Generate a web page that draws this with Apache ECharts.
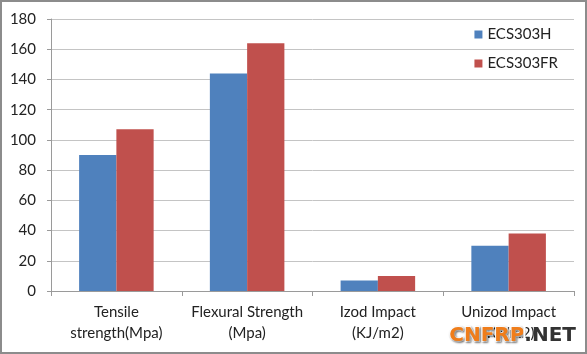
<!DOCTYPE html>
<html>
<head>
<meta charset="utf-8">
<script src="https://cdn.jsdelivr.net/npm/echarts@6/dist/echarts.min.js"></script>
<style>
  html, body { margin: 0; padding: 0; background: #fff; }
  #chart { width: 587px; height: 354px; box-sizing: border-box; border: 2px solid #8c8c8c; }
</style>
</head>
<body>
<div id="chart"></div>
<script>
var categories = ['Tensile\nstrength(Mpa)', 'Flexural Strength\n(Mpa)', 'Izod Impact\n(KJ/m2)', 'Unizod Impact\n(KJ/m2)'];
var ecs303h = [90, 144, 7, 30];
var ecs303fr = [107, 164, 10, 38];

var chartDom = document.getElementById('chart');
var myChart = echarts.init(chartDom);

var font = 'Lato, "Open Sans", sans-serif';

var option = {
    animation: false,
    textStyle: { fontFamily: font },
    grid: { left: 49, right: 11, top: 17, bottom: 61, containLabel: false },
    legend: {
        orient: 'vertical',
        right: 22,
        top: 20,
        itemWidth: 8,
        itemHeight: 8,
        itemGap: 14,
        icon: 'rect',
        textStyle: { fontFamily: font, fontSize: 15, color: '#222' },
        data: ['ECS303H', 'ECS303FR']
    },
    xAxis: {
        type: 'category',
        data: categories,
        axisLine: { lineStyle: { color: '#9a9a9a' } },
        axisTick: { show: true, length: 5, lineStyle: { color: '#9a9a9a' } },
        axisLabel: { fontSize: 15, color: '#222', lineHeight: 21, margin: 11, interval: 0 }
    },
    yAxis: {
        type: 'value',
        min: 0,
        max: 180,
        interval: 20,
        axisLine: { show: true, lineStyle: { color: '#9a9a9a' } },
        axisTick: { show: true, length: 4, lineStyle: { color: '#9a9a9a' } },
        axisLabel: { fontSize: 15, color: '#222', margin: 15 },
        splitLine: { lineStyle: { color: '#c4c4c4' } }
    },
    series: [
        {
            name: 'ECS303H',
            type: 'bar',
            data: ecs303h,
            barGap: '0%',
            barCategoryGap: '43%',
            itemStyle: { color: '#4F81BD' }
        },
        {
            name: 'ECS303FR',
            type: 'bar',
            data: ecs303fr,
            itemStyle: { color: '#C0504D' }
        }
    ],
    graphic: [
        {
            type: 'text',
            right: 8,
            bottom: 5,
            z: 100,
            style: {
                text: '{a|CNFRP}{b|.NET}',
                rich: {
                    a: { fontFamily: 'DejaVu Sans', fontWeight: 'bold', fontSize: 20, fill: '#f07d1a', stroke: '#fff', lineWidth: 2, textBorderColor: '#fff', textBorderWidth: 2, textShadowColor: 'rgba(0,0,0,0.45)', textShadowBlur: 2, textShadowOffsetX: 1, textShadowOffsetY: 1 },
                    b: { fontFamily: 'DejaVu Sans', fontWeight: 'bold', fontSize: 20, fill: '#333', textBorderColor: '#fff', textBorderWidth: 2 }
                }
            }
        }
    ]
};

option && myChart.setOption(option);
</script>
</body>
</html>
